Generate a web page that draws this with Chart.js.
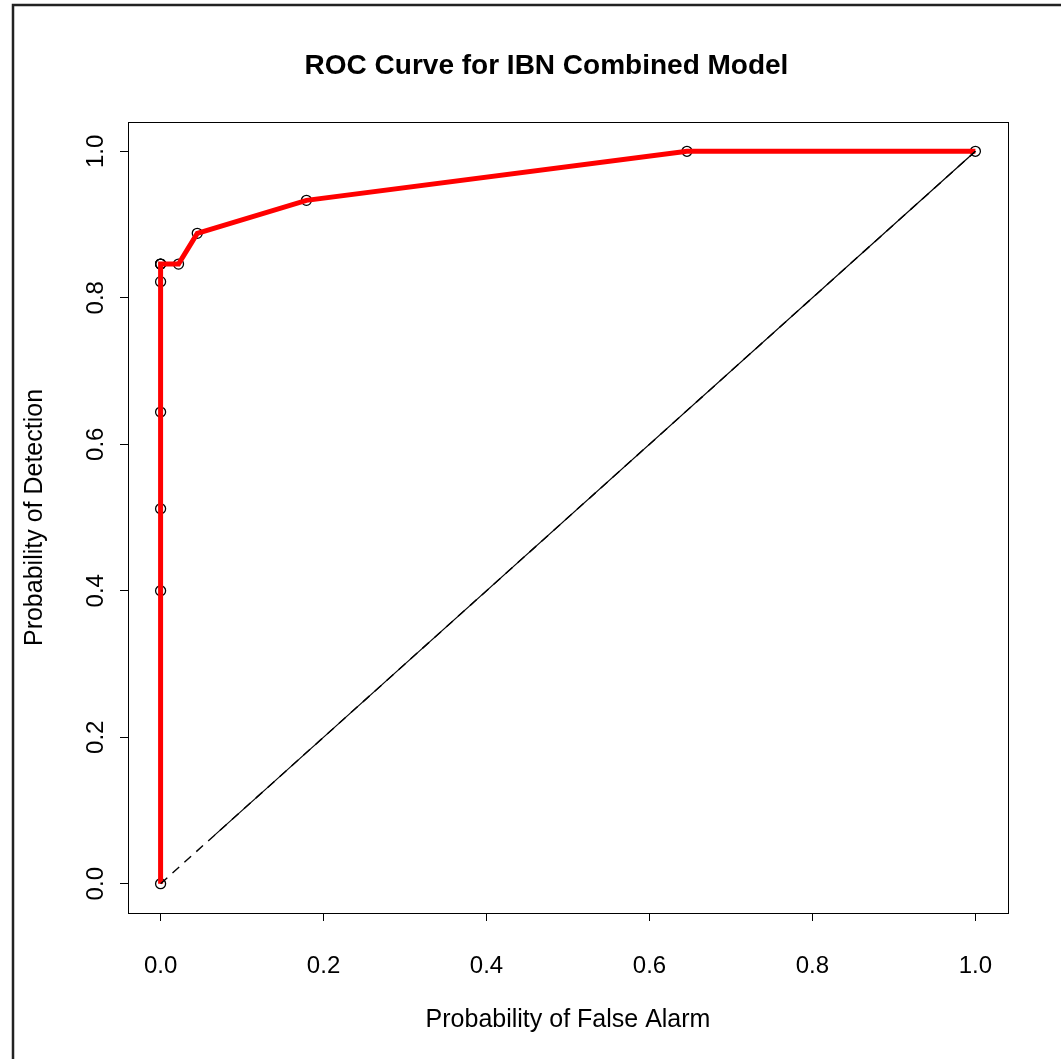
<!DOCTYPE html>
<html>
<head>
<meta charset="utf-8">
<script src="https://cdn.jsdelivr.net/npm/chart.js@4/dist/chart.umd.min.js"></script>
<style>
html,body{margin:0;padding:0;background:#fff;}
canvas{display:block;}
</style>
</head>
<body>
<canvas id="c" width="1061" height="1059"></canvas>
<script>
// ---- data ----
const falseAlarm = [0, 0, 0, 0, 0, 0, 0, 0, 0.022, 0.045, 0.179, 0.646, 1];
const detection  = [0, 0.400, 0.512, 0.644, 0.822, 0.846, 0.846, 0.846, 0.846, 0.888, 0.933, 1, 1];
const diagDashed = [0, 1];
const diagSolid  = [0.066, 1];
const xTicks = [0, 0.2, 0.4, 0.6, 0.8, 1.0];
const yTicks = [0, 0.2, 0.4, 0.6, 0.8, 1.0];
const titleText = 'ROC Curve for IBN Combined Model';
const xTitle = 'Probability of False Alarm';
const yTitle = 'Probability of Detection';

const FONT = '"Liberation Sans", Arial, Helvetica, sans-serif';
const rocPts = falseAlarm.map((x, i) => ({x: x, y: detection[i]}));
const dashPts = diagDashed.map(v => ({x: v, y: v}));
const solidPts = diagSolid.map(v => ({x: v, y: v}));

const framePlugin = {
  id: 'frame',
  afterDraw(chart) {
    const ctx = chart.ctx, a = chart.chartArea;
    ctx.save();
    // plot box
    ctx.strokeStyle = '#000';
    ctx.lineWidth = 1;
    ctx.strokeRect(Math.round(a.left) + 0.5, Math.round(a.top) + 0.5,
                   Math.round(a.right - a.left), Math.round(a.bottom - a.top));
    // main title (centred as in the original figure)
    ctx.fillStyle = '#000';
    ctx.font = 'bold 28px ' + FONT;
    ctx.textAlign = 'center';
    ctx.textBaseline = 'middle';
    ctx.fillText(titleText, 546.5, 66);
    // outer figure frame
    ctx.strokeStyle = '#222';
    ctx.lineWidth = 2.5;
    ctx.beginPath();
    ctx.moveTo(13, chart.height);
    ctx.lineTo(13, 5);
    ctx.lineTo(chart.width, 5);
    ctx.stroke();
    ctx.restore();
  }
};

new Chart(document.getElementById('c'), {
  type: 'scatter',
  data: {
    datasets: [
      {data: dashPts, showLine: true, borderColor: '#000', borderWidth: 1.4, borderDash: [9, 7], pointRadius: 0, fill: false},
      {data: solidPts, showLine: true, borderColor: '#000', borderWidth: 1.2, pointRadius: 0, fill: false},
      {data: rocPts, showLine: true, borderColor: '#ff0000', borderWidth: 5, pointRadius: 0, fill: false, tension: 0},
      {data: rocPts, showLine: false, pointRadius: 5, pointBorderColor: '#000', pointBackgroundColor: 'rgba(0,0,0,0)', pointBorderWidth: 1.3}
    ]
  },
  options: {
    responsive: false,
    animation: false,
    devicePixelRatio: 1,
    layout: {padding: {left: 0, right: 53, top: 122, bottom: 0}},
    plugins: {
      legend: {display: false},
      tooltip: {enabled: false},
      title: {display: false}
    },
    scales: {
      x: {
        type: 'linear', position: 'bottom', min: -0.04, max: 1.04,
        afterBuildTicks: s => { s.ticks = xTicks.map(v => ({value: v})); },
        afterFit: s => { s.height = 146; },
        grid: {drawOnChartArea: false, drawTicks: true, tickLength: 8, color: '#000', tickColor: '#000', lineWidth: 1},
        border: {display: true, color: '#000', width: 1},
        ticks: {color: '#000', font: {family: FONT, size: 24}, padding: 31, maxRotation: 0, minRotation: 0,
                callback: v => Number(v).toFixed(1)},
        title: {display: true, text: xTitle, color: '#000', font: {family: FONT, size: 25, lineHeight: 1.2},
                padding: {top: 0, bottom: 24}}
      },
      y: {
        type: 'linear', position: 'left', min: -0.04, max: 1.04,
        afterBuildTicks: s => { s.ticks = yTicks.map(v => ({value: v})); },
        afterFit: s => { s.width = 128; },
        grid: {drawOnChartArea: false, drawTicks: true, tickLength: 8, color: '#000', tickColor: '#000', lineWidth: 1},
        border: {display: true, color: '#000', width: 1},
        ticks: {color: '#000', font: {family: FONT, size: 24}, padding: 7, minRotation: 90, maxRotation: 90,
                crossAlign: 'center', callback: v => Number(v).toFixed(1)},
        title: {display: true, text: yTitle, color: '#000', font: {family: FONT, size: 25, lineHeight: 1.2},
                padding: {top: 20, bottom: 0}}
      }
    }
  },
  plugins: [framePlugin]
});
</script>
</body>
</html>
